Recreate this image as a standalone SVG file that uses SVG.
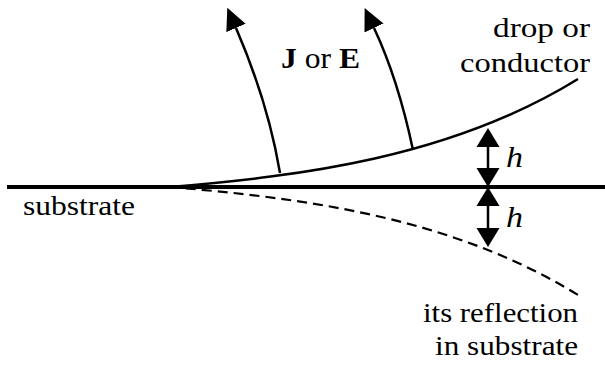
<svg xmlns="http://www.w3.org/2000/svg" width="605" height="370" viewBox="0 0 605 370">
<style>
  .t { fill: #000; font-family: 'Liberation Serif', serif; font-size: 28px; }
  .big { font-size: 30px; }
  .it { font-style: italic; }
  .b { font-weight: bold; }
  .ln { fill: none; stroke: #000; stroke-width: 2.5; }
  .dash { fill: none; stroke: #000; stroke-width: 2.2; stroke-dasharray: 10 6; }
</style>
<defs>
  <marker id="ah" markerUnits="userSpaceOnUse" viewBox="0 -11 22 22" refX="0" refY="0" markerWidth="22" markerHeight="22" orient="auto">
    <path d="M0,-10.5 L22,0 L0,10.5 Z" fill="#000"/>
  </marker>
  <marker id="hd" markerUnits="userSpaceOnUse" viewBox="0 -12 19 24" refX="0" refY="0" markerWidth="19" markerHeight="24" orient="auto-start-reverse">
    <path d="M0,-11.5 L19,0 L0,11.5 Z" fill="#000"/>
  </marker>
</defs>
<g id="substrate">
  <line x1="7" y1="187" x2="605" y2="187" stroke="#000" stroke-width="4"/>
  <text class="t" x="23" y="215" textLength="112" lengthAdjust="spacingAndGlyphs">substrate</text>
</g>
<g id="drop">
  <path class="ln" d="M170,187 C300,176 450,158 578,79"/>
  <text class="t" x="493" y="37" textLength="97" lengthAdjust="spacingAndGlyphs">drop or</text>
  <text class="t" x="460" y="72" textLength="130" lengthAdjust="spacingAndGlyphs">conductor</text>
</g>
<g id="reflection">
  <path class="dash" d="M170,187 C300,198 450,216 578,295"/>
  <text class="t" x="423" y="322" textLength="155" lengthAdjust="spacingAndGlyphs">its reflection</text>
  <text class="t" x="435" y="355" textLength="143" lengthAdjust="spacingAndGlyphs">in substrate</text>
</g>
<g id="field-label">
  <text class="t big" x="281" y="68" textLength="79" lengthAdjust="spacingAndGlyphs"><tspan class="b">J</tspan> or <tspan class="b">E</tspan></text>
</g>
<g id="h-labels">
  <text class="t big it" x="506" y="167" textLength="17" lengthAdjust="spacingAndGlyphs">h</text>
  <text class="t big it" x="506" y="227" textLength="17" lengthAdjust="spacingAndGlyphs">h</text>
</g>
<g id="connectors">
  <path class="ln" d="M280,173 Q268,102 236,28" marker-end="url(#ah)"/>
  <path class="ln" d="M413,150 Q398,79 374,28" marker-end="url(#ah)"/>
  <line class="ln" x1="488" y1="147" x2="488" y2="168" marker-start="url(#hd)" marker-end="url(#hd)"/>
  <line class="ln" x1="488" y1="206" x2="488" y2="228" marker-start="url(#hd)" marker-end="url(#hd)"/>
</g>
</svg>
